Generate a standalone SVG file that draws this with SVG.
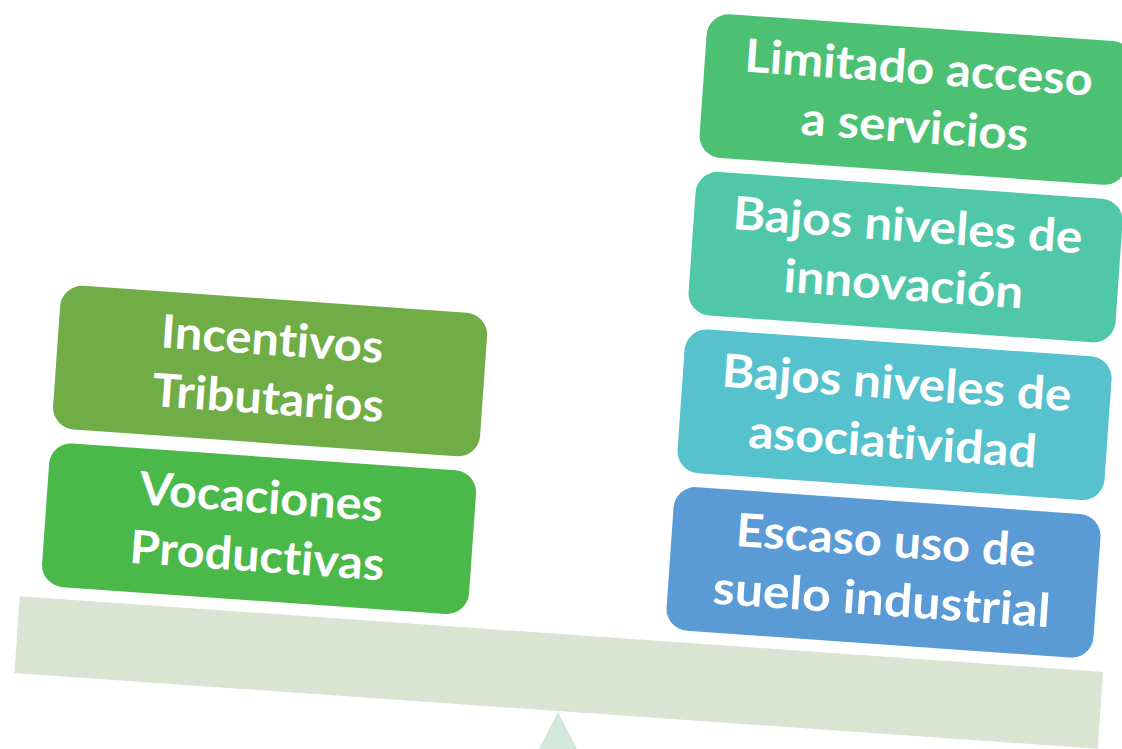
<svg xmlns="http://www.w3.org/2000/svg" width="1122" height="749" viewBox="0 0 1122 749">
<style>
.box{stroke:none}
.t{font-family:Lato,"Liberation Sans",sans-serif;font-weight:bold;font-size:46px;fill:#ffffff;text-anchor:middle;font-variant-ligatures:none}
</style>
<rect width="1122" height="749" fill="#ffffff"/>
<g id="fulcrum"><polygon points="558,712 539,749 577,749" fill="#d3e8dc"/></g>
<g id="scale" transform="rotate(4 558 712)">
<g id="beam"><rect x="13" y="634" width="1086" height="77" fill="#d9e4d3"/></g>
<g id="incentivos"><rect class="box" x="33" y="320" width="428" height="144" rx="22" fill="#70ad47"/>
<text class="t" x="247" y="376" textLength="223" lengthAdjust="spacingAndGlyphs">Incentivos</text>
<text class="t" x="247" y="435" textLength="232" lengthAdjust="spacingAndGlyphs">Tributarios</text></g>
<g id="vocaciones"><rect class="box" x="33" y="478" width="428" height="144" rx="22" fill="#4bb84a"/>
<text class="t" x="247" y="534" textLength="244" lengthAdjust="spacingAndGlyphs">Vocaciones</text>
<text class="t" x="247" y="593" textLength="255" lengthAdjust="spacingAndGlyphs">Productivas</text></g>
<g id="limitado"><rect class="box" x="659" y="4" width="428" height="144" rx="22" fill="#4cc174"/>
<text class="t" x="873" y="60" textLength="349" lengthAdjust="spacingAndGlyphs">Limitado acceso</text>
<text class="t" x="873" y="119" textLength="228" lengthAdjust="spacingAndGlyphs">a servicios</text></g>
<g id="innovacion"><rect class="box" x="659" y="162" width="428" height="144" rx="22" fill="#50c7a8"/>
<text class="t" x="873" y="218" textLength="350" lengthAdjust="spacingAndGlyphs">Bajos niveles de</text>
<text class="t" x="873" y="277" textLength="240" lengthAdjust="spacingAndGlyphs">innovación</text></g>
<g id="asociatividad"><rect class="box" x="659" y="320" width="428" height="144" rx="22" fill="#55c2cd"/>
<text class="t" x="873" y="376" textLength="350" lengthAdjust="spacingAndGlyphs">Bajos niveles de</text>
<text class="t" x="873" y="435" textLength="289" lengthAdjust="spacingAndGlyphs">asociatividad</text></g>
<g id="escaso"><rect class="box" x="659" y="478" width="428" height="144" rx="22" fill="#5b9bd5"/>
<text class="t" x="873" y="534" textLength="300" lengthAdjust="spacingAndGlyphs">Escaso uso de</text>
<text class="t" x="873" y="593" textLength="338" lengthAdjust="spacingAndGlyphs">suelo industrial</text></g>
</g>
<g id="connectors"/>
</svg>
